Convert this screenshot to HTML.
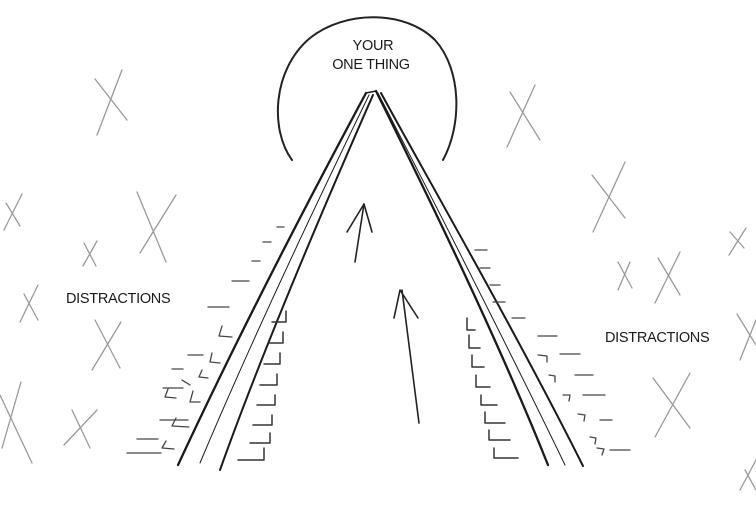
<!DOCTYPE html>
<html><head><meta charset="utf-8"><style>
html,body{margin:0;padding:0;background:#fff;width:756px;height:506px;overflow:hidden}
svg{display:block}
text{font-family:"Liberation Sans",sans-serif;font-size:14.5px;fill:#1a1a1a;letter-spacing:-0.3px}
</style></head><body>
<svg width="756" height="506" viewBox="0 0 756 506" xmlns="http://www.w3.org/2000/svg">
<g fill="none" stroke-linecap="round" stroke-linejoin="round">
<!-- arc -->
<path d="M292,160 C270,130 272,70 310,38 C345,10 405,10 435,40 C462,70 462,125 443,160" stroke="#222" stroke-width="2"/>
<!-- road -->
<g stroke="#1a1a1a">
<path d="M366,93 L376,91" stroke-width="1.5"/>
<path d="M366,93 C330,160 250,310 178,465" stroke-width="2.3"/>
<path d="M369,95 C335,165 260,320 200,463" stroke-width="1"/>
<path d="M373,95 C340,170 270,330 220,470" stroke-width="2"/>
<path d="M376,91 C410,160 490,320 548,465" stroke-width="2.3"/>
<path d="M378,93 C415,165 500,330 565,465" stroke-width="1"/>
<path d="M381,93 C420,165 515,330 583,466" stroke-width="2"/>
</g>
<!-- arrows -->
<g stroke="#222" stroke-width="1.6">
<path d="M355,262 L364,204"/><path d="M347,232 L364,204 L372,232"/>
<path d="M419,423 L402,290"/><path d="M394,318 L400,290 L418,318"/>
</g>
<!-- inner ticks left -->
<g stroke="#333" stroke-width="1.5">
<path d="M286,311 V322 H272"/><path d="M283,332 V343 H268"/><path d="M280,353 V364 H264"/>
<path d="M277,374 V385 H260"/><path d="M275,395 V405 H257"/><path d="M272,415 V425 H253"/>
<path d="M270,433 V443 H250"/><path d="M264,448 V460 H238"/>
<!-- inner ticks right -->
<path d="M467,318 V330 H475"/><path d="M469,335 V348 H480"/><path d="M472,355 V367 H484"/>
<path d="M476,375 V387 H490"/><path d="M481,395 V405 H497"/><path d="M485,412 V423 H505"/>
<path d="M489,430 V440 H510"/><path d="M494,448 V458 H518"/>
</g>
<!-- outer dashes left -->
<g stroke="#444" stroke-width="1.3">
<path d="M277,227 H284"/><path d="M263,242 H271"/><path d="M252,261 H260"/><path d="M232,281 H249"/>
<path d="M208,307 H229"/><path d="M188,355 H203"/><path d="M172,369 H183"/><path d="M163,388 H183"/>
<path d="M160,420 H188"/><path d="M137,439 H158"/><path d="M127,453 H161"/><path d="M0,0" />
<path d="M222,326 L219,336 L232,337"/><path d="M212,353 L210,362 L220,363"/><path d="M202,370 L199,377 L208,378"/>
<path d="M193,391 L190,402 L200,402"/><path d="M168,389 L165,397 L176,398"/><path d="M176,418 L172,426 L189,427"/>
<path d="M166,441 L162,448 L174,449"/><path d="M190,385 L182,380"/>
<!-- outer dashes right -->
<path d="M475,250 H487"/><path d="M480,268 H490"/><path d="M490,285 H500"/><path d="M493,302 H505"/>
<path d="M512,318 H525"/><path d="M538,336 H557"/><path d="M560,354 H580"/><path d="M575,375 H593"/>
<path d="M583,395 H605"/><path d="M600,420 H612"/><path d="M610,450 H630"/><path d="M558,488 H0" stroke="none"/>
<path d="M538,355 L547,356 L547,362"/><path d="M549,375 L555,376 L555,382"/><path d="M563,395 L570,395 L569,401"/>
<path d="M578,414 L585,415 L584,421"/><path d="M590,437 L596,438 L595,444"/><path d="M597,448 L604,449 L602,455"/>
</g>
<!-- X marks -->
<g stroke="#999" stroke-width="1.3">
<path d="M95,79 L127,120 M122,70 L97,135"/>
<path d="M6,203 L20,226 M22,194 L4,230"/>
<path d="M137,192 L166,262 M176,195 L140,253"/>
<path d="M84,243 L96,266 M97,241 L83,266"/>
<path d="M24,294 L38,320 M38,285 L20,322"/>
<path d="M95,320 L120,368 M121,322 L92,370"/>
<path d="M0,395 L32,463 M21,382 L2,448"/>
<path d="M72,410 L90,448 M97,410 L64,445"/>
<path d="M510,92 L540,140 M535,85 L507,147"/>
<path d="M592,175 L625,218 M625,162 L593,232"/>
<path d="M618,262 L632,288 M630,262 L618,290"/>
<path d="M658,258 L680,295 M680,252 L655,303"/>
<path d="M730,232 L744,248 M746,228 L729,255"/>
<path d="M737,314 L756,345 M756,320 L740,360"/>
<path d="M653,378 L690,428 M690,373 L655,437"/>
<path d="M745,470 L756,490 M756,460 L740,490"/>
</g>
</g>
<text x="373" y="50" text-anchor="middle">YOUR</text>
<text x="371" y="69" text-anchor="middle">ONE THING</text>
<text x="66" y="303">DISTRACTIONS</text>
<text x="605" y="342">DISTRACTIONS</text>
</svg>
</body></html>
